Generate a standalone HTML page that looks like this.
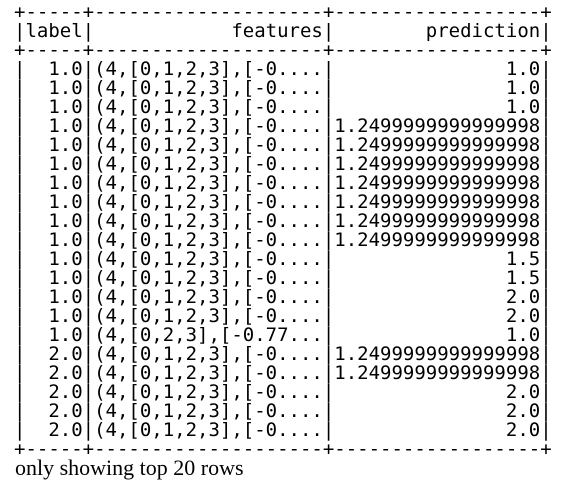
<!DOCTYPE html>
<html><head><meta charset="utf-8"><style>
html,body{margin:0;padding:0;background:#fff;width:562px;height:495px;overflow:hidden}
pre{position:absolute;left:14px;top:3px;margin:0;font-family:"DejaVu Sans Mono","Liberation Mono",monospace;font-size:19px;line-height:19px;color:#000}
.f{position:absolute;left:15px;top:455px;font-family:"Liberation Serif",serif;font-size:22px;color:#000;white-space:nowrap}
</style></head><body>
<pre>+-----+--------------------+------------------+
|label|            features|        prediction|
+-----+--------------------+------------------+
|  1.0|(4,[0,1,2,3],[-0....|               1.0|
|  1.0|(4,[0,1,2,3],[-0....|               1.0|
|  1.0|(4,[0,1,2,3],[-0....|               1.0|
|  1.0|(4,[0,1,2,3],[-0....|1.2499999999999998|
|  1.0|(4,[0,1,2,3],[-0....|1.2499999999999998|
|  1.0|(4,[0,1,2,3],[-0....|1.2499999999999998|
|  1.0|(4,[0,1,2,3],[-0....|1.2499999999999998|
|  1.0|(4,[0,1,2,3],[-0....|1.2499999999999998|
|  1.0|(4,[0,1,2,3],[-0....|1.2499999999999998|
|  1.0|(4,[0,1,2,3],[-0....|1.2499999999999998|
|  1.0|(4,[0,1,2,3],[-0....|               1.5|
|  1.0|(4,[0,1,2,3],[-0....|               1.5|
|  1.0|(4,[0,1,2,3],[-0....|               2.0|
|  1.0|(4,[0,1,2,3],[-0....|               2.0|
|  1.0|(4,[0,2,3],[-0.77...|               1.0|
|  2.0|(4,[0,1,2,3],[-0....|1.2499999999999998|
|  2.0|(4,[0,1,2,3],[-0....|1.2499999999999998|
|  2.0|(4,[0,1,2,3],[-0....|               2.0|
|  2.0|(4,[0,1,2,3],[-0....|               2.0|
|  2.0|(4,[0,1,2,3],[-0....|               2.0|
+-----+--------------------+------------------+</pre>
<div class="f">only showing top 20 rows</div>
</body></html>
